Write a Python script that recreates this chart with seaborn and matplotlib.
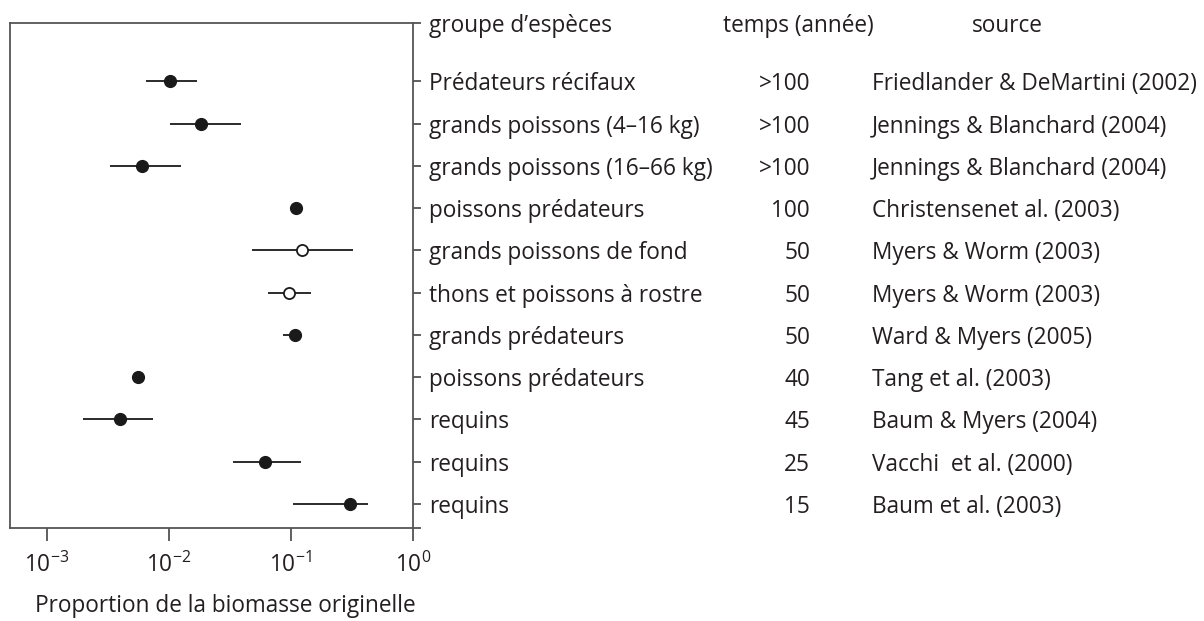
import matplotlib
matplotlib.use("Agg")
import matplotlib.pyplot as plt
import matplotlib.transforms as mtransforms
import seaborn as sns
import pandas as pd
import numpy as np

# ---- data ----
groups = ["Prédateurs récifaux", "grands poissons (4–16 kg)", "grands poissons (16–66 kg)",
          "poissons prédateurs", "grands poissons de fond", "thons et poissons à rostre",
          "grands prédateurs", "poissons prédateurs", "requins", "requins", "requins"]
times = [">100", ">100", ">100", "100", "50", "50", "50", "40", "45", "25", "15"]
sources = ["Friedlander & DeMartini (2002)", "Jennings & Blanchard (2004)",
           "Jennings & Blanchard (2004)", "Christensenet al. (2003)", "Myers & Worm (2003)",
           "Myers & Worm (2003)", "Ward & Myers (2005)", "Tang et al. (2003)",
           "Baum & Myers (2004)", "Vacchi  et al. (2000)", "Baum et al. (2003)"]
proportion = [0.0103, 0.0184, 0.0060, 0.110, 0.124, 0.096, 0.108, 0.0056, 0.0040, 0.061, 0.305]
lower = [0.0065, 0.0103, 0.0033, np.nan, 0.0476, 0.0644, 0.0855, np.nan, 0.0020, 0.0337, 0.1045]
upper = [0.0170, 0.0387, 0.0125, np.nan, 0.324, 0.145, 0.112, np.nan, 0.0075, 0.120, 0.43]
marker_type = ["plein", "plein", "plein", "plein", "vide", "vide", "plein", "plein", "plein", "plein", "plein"]
header_group = "groupe d’espèces"
header_time = "temps (année)"
header_source = "source"
xlabel = "Proportion de la biomasse originelle"

df = pd.DataFrame({"groupe": groups, "temps": times, "source": sources,
                   "p": proportion, "lo": lower, "hi": upper, "type": marker_type})
df["row"] = np.arange(1, len(df) + 1)

# ---- style ----
sns.set_theme(style="white")
FONT = "Open Sans"
plt.rcParams["font.family"] = [FONT, "DejaVu Sans"]
plt.rcParams["mathtext.fontset"] = "custom"
plt.rcParams["mathtext.rm"] = FONT
plt.rcParams["mathtext.it"] = FONT
plt.rcParams["mathtext.bf"] = FONT
TXT = "#231f20"
FS = 16.3

fig = plt.figure(figsize=(12.04, 6.21), dpi=100)
ax = fig.add_axes([10 / 1204, 1 - 528 / 621, (413 - 10) / 1204, (528 - 23) / 621])

# error bars
eb = df.dropna(subset=["lo", "hi"])
ax.hlines(eb["row"], eb["lo"], eb["hi"], color="#2b2b2b", lw=1.4, zorder=2)

# points
sns.scatterplot(data=df[df["type"] == "plein"], x="p", y="row", ax=ax, s=72,
                color="#1a1a1a", edgecolor="#1a1a1a", linewidth=1.0, zorder=3, legend=False)
sns.scatterplot(data=df[df["type"] == "vide"], x="p", y="row", ax=ax, s=64,
                color="white", edgecolor="#1a1a1a", linewidth=1.3, zorder=3, legend=False)

ax.set_xscale("log")
ax.set_xlim(10 ** -3.30, 1.0)
ytop, ybot = -0.38, 11.57
ax.set_ylim(ybot, ytop)

ax.set_xticks([1e-3, 1e-2, 1e-1, 1e0])
ax.set_xticklabels([r"$10^{-3}$", r"$10^{-2}$", r"$10^{-1}$", r"$10^{0}$"])
ax.xaxis.set_minor_locator(matplotlib.ticker.NullLocator())
ax.tick_params(axis="x", direction="out", length=9, width=1.2, color="#444444",
               labelsize=FS, labelcolor=TXT, pad=9, bottom=True)

ax.yaxis.tick_right()
ax.set_yticks([ytop] + list(df["row"]) + [ybot])
ax.set_yticklabels([header_group] + groups + [""])
ax.tick_params(axis="y", direction="out", length=5.5, width=1.2, color="#444444",
               labelsize=FS, labelcolor=TXT, pad=6, right=True, left=False)

for sp in ax.spines.values():
    sp.set_visible(True)
    sp.set_color("#555555")
    sp.set_linewidth(1.3)

ax.set_xlabel(xlabel, fontsize=FS, color=TXT)
ax.xaxis.set_label_coords((225 - 10) / 403, -(603 - 528) / 505)
ax.xaxis.label.set_va("center_baseline")
ax.set_ylabel("")
ax.grid(False)

# extra text columns
trans = mtransforms.blended_transform_factory(fig.transFigure, ax.transData)
x_time = 810 / 1204
x_src = 872 / 1204
for r, t, s in zip(df["row"], df["temps"], df["source"]):
    ax.text(x_time, r, t, transform=trans, ha="right", va="center_baseline", fontsize=FS, color=TXT)
    ax.text(x_src, r, s, transform=trans, ha="left", va="center_baseline", fontsize=FS, color=TXT)
ax.text(798 / 1204, ytop, header_time, transform=trans, ha="center", va="center_baseline",
        fontsize=FS, color=TXT)
ax.text(1007 / 1204, ytop, header_source, transform=trans, ha="center", va="center_baseline",
        fontsize=FS, color=TXT)

fig.savefig("out.png", dpi=100)
